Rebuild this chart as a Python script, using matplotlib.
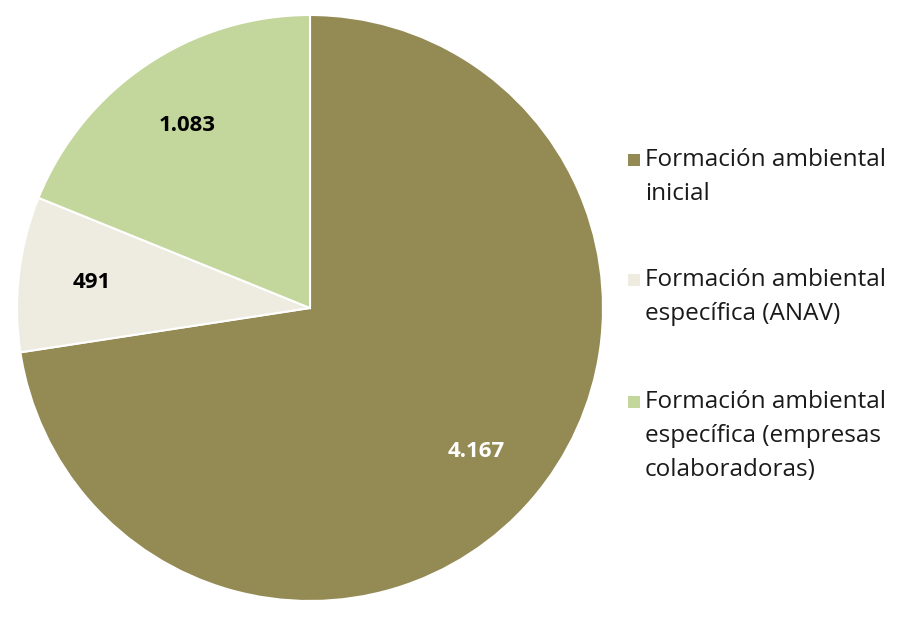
import matplotlib
matplotlib.use("Agg")
import matplotlib.pyplot as plt
from matplotlib.patches import Rectangle

categories = [
    "Formación ambiental\ninicial",
    "Formación ambiental\nespecífica (ANAV)",
    "Formación ambiental\nespecífica (empresas\ncolaboradoras)",
]
values = [4167, 491, 1083]
value_labels = ["4.167", "491", "1.083"]
colors = ["#948A54", "#EEECE1", "#C3D69B"]
label_colors = ["white", "black", "black"]

plt.rcParams["font.family"] = ["Open Sans", "DejaVu Sans"]

W, H = 907, 619
fig = plt.figure(figsize=(W / 100, H / 100), dpi=100)
fig.patch.set_facecolor("white")

cx, cy, r = 310, 308, 293
ax = fig.add_axes([(cx - r) / W, (H - cy - r) / H, 2 * r / W, 2 * r / H])
wedges, texts = ax.pie(
    values,
    colors=colors,
    startangle=90,
    counterclock=False,
    labels=value_labels,
    labeldistance=0.75,
    radius=1.0,
    wedgeprops=dict(edgecolor="white", linewidth=1.5),
    textprops=dict(fontsize=16, fontweight="bold"),
)
for t, c in zip(texts, label_colors):
    t.set_color(c)
    t.set_horizontalalignment("center")
    t.set_verticalalignment("center")
ax.set_xlim(-1, 1)
ax.set_ylim(-1, 1)
ax.set_aspect("equal")
ax.axis("off")

# Legend drawn as swatches beside multi-line category names
entry_tops = [160, 280, 402]
line_h = 34
for name, col, ytop in zip(categories, colors, entry_tops):
    sq = 12
    fig.patches.append(Rectangle((628 / W, (H - ytop - sq / 2) / H), sq / W, sq / H,
                                 transform=fig.transFigure, facecolor=col,
                                 edgecolor="none"))
    for i, line in enumerate(name.split("\n")):
        fig.text(645 / W, (H - ytop - i * line_h) / H, line, fontsize=17.5,
                 color="#1a1a1a", ha="left", va="center")

fig.savefig("out.png", dpi=100)
